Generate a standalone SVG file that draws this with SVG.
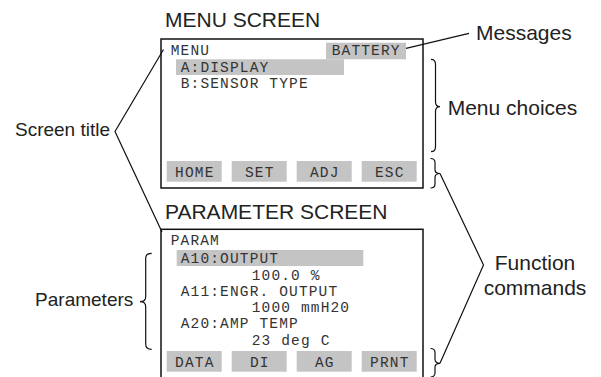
<svg xmlns="http://www.w3.org/2000/svg" width="601" height="377" viewBox="0 0 601 377">
<style>
.lbl{font-family:"Liberation Sans",Arial,sans-serif;fill:#222;}
.big{font-size:21px;}
.sm{font-size:19px;}
.mono{font-family:"Liberation Mono","Courier New",monospace;font-size:14.5px;letter-spacing:1.15px;fill:#333;}
.scr{fill:#fff;stroke:#111;stroke-width:1.5;}
.hl{fill:#c4c4c4;}
.ln{fill:none;stroke:#111;stroke-width:1.2;}
</style>
<rect width="601" height="377" fill="#fff"/>
<g id="menu-screen">
<text class="lbl big" x="165" y="27.3">MENU SCREEN</text>
<rect class="scr" x="161" y="39" width="262" height="149"/>
<rect class="hl" x="326" y="42.7" width="80" height="16.6"/>
<rect class="hl" x="176" y="59.3" width="168" height="15.7"/>
<text class="mono" x="170.7" y="55">MENU</text>
<text class="mono" x="331.7" y="55">BATTERY</text>
<text class="mono" x="180.7" y="71.7">A:DISPLAY</text>
<text class="mono" x="180.7" y="88.3">B:SENSOR TYPE</text>
<rect class="hl" x="166.7" y="161" width="55" height="20.7"/>
<rect class="hl" x="231.7" y="161" width="55" height="20.7"/>
<rect class="hl" x="296.7" y="161" width="55" height="20.7"/>
<rect class="hl" x="361.7" y="161" width="55" height="20.7"/>
<text class="mono" x="194.8" y="176.7" text-anchor="middle">HOME</text>
<text class="mono" x="259.8" y="176.7" text-anchor="middle">SET</text>
<text class="mono" x="324.8" y="176.7" text-anchor="middle">ADJ</text>
<text class="mono" x="389.8" y="176.7" text-anchor="middle">ESC</text>
</g>
<g id="parameter-screen">
<text class="lbl big" x="165" y="219.3">PARAMETER SCREEN</text>
<rect class="scr" x="161" y="229.3" width="262" height="160"/>
<rect class="hl" x="176.7" y="250" width="186.6" height="16"/>
<text class="mono" x="170.7" y="245">PARAM</text>
<text class="mono" x="180.7" y="263.3">A10:OUTPUT</text>
<text class="mono" x="251.7" y="279.5">100.0 %</text>
<text class="mono" x="180.7" y="296">A11:ENGR. OUTPUT</text>
<text class="mono" x="251.7" y="311.8">1000 mmH20</text>
<text class="mono" x="180.7" y="328.4">A20:AMP TEMP</text>
<text class="mono" x="251.7" y="345">23 deg C</text>
<rect class="hl" x="166.7" y="351" width="55" height="20.7"/>
<rect class="hl" x="231.7" y="351" width="55" height="20.7"/>
<rect class="hl" x="296.7" y="351" width="55" height="20.7"/>
<rect class="hl" x="361.7" y="351" width="55" height="20.7"/>
<text class="mono" x="194.8" y="366.7" text-anchor="middle">DATA</text>
<text class="mono" x="259.8" y="366.7" text-anchor="middle">DI</text>
<text class="mono" x="324.8" y="366.7" text-anchor="middle">AG</text>
<text class="mono" x="389.8" y="366.7" text-anchor="middle">PRNT</text>
</g>
<g id="label-messages"><text class="lbl big" x="476" y="40">Messages</text></g>
<g id="label-menu-choices"><text class="lbl big" x="447.7" y="115">Menu choices</text></g>
<g id="label-function-commands">
<text class="lbl big" x="535" y="270" text-anchor="middle">Function</text>
<text class="lbl big" x="535" y="295" text-anchor="middle">commands</text>
</g>
<g id="label-screen-title"><text class="lbl sm" x="110" y="135.7" text-anchor="end">Screen title</text></g>
<g id="label-parameters"><text class="lbl sm" x="133.3" y="305.7" text-anchor="end">Parameters</text></g>
<g id="connectors">
<line class="ln" x1="406" y1="48.3" x2="469" y2="33.3"/>
<path class="ln" d="M431 59.3 Q435.5 59.3 435.5 64.3 L435.5 101.7 Q435.5 106.7 440 106.7 Q435.5 106.7 435.5 111.7 L435.5 146.7 Q435.5 151.7 431 151.7"/>
<path class="ln" d="M430.5 158.5 Q435 158.5 435 162.5 L435 169.5 Q435 173.5 440 173.5 Q435 173.5 435 177.5 L435 184 Q435 188 430.5 188"/>
<path class="ln" d="M430.5 348.5 Q435 348.5 435 352.5 L435 359.3 Q435 363.3 440 363.3 Q435 363.3 435 367.3 L435 373 Q435 377 430.5 377"/>
<polyline class="ln" points="440,173.5 483.5,265 440,363.3"/>
<path class="ln" d="M151.7 253.3 Q145.7 253.3 145.7 258.3 L145.7 296.7 Q145.7 301.7 140 301.7 Q145.7 301.7 145.7 306.7 L145.7 344.3 Q145.7 349.3 151.7 349.3"/>
<polyline class="ln" points="163.5,49.5 115,131.5 162,232"/>
</g>
</svg>
